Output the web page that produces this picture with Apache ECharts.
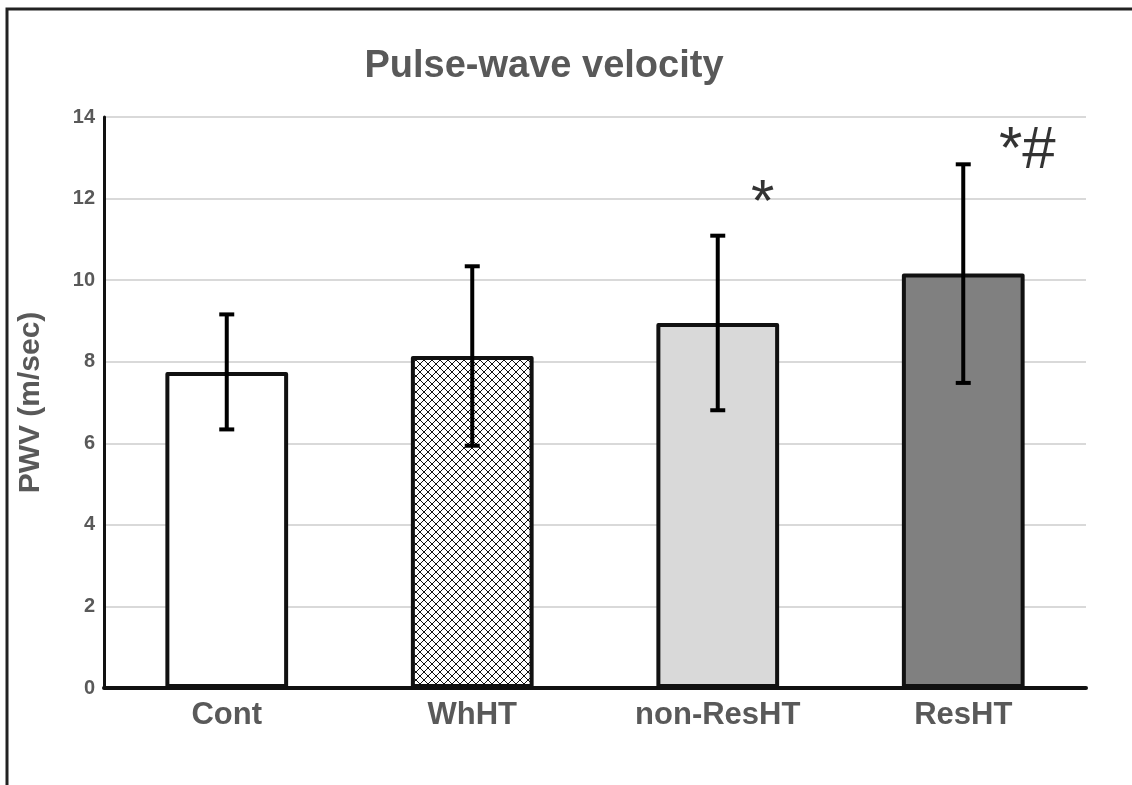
<!DOCTYPE html>
<html>
<head>
<meta charset="utf-8">
<script src="https://cdn.jsdelivr.net/npm/echarts@6/dist/echarts.min.js"></script>
<style>html,body{margin:0;padding:0;background:#fff}#c{width:1132px;height:785px}</style>
</head>
<body>
<div id="c"></div>
<script>
const categories = ['Cont', 'WhHT', 'non-ResHT', 'ResHT'];
const means = [7.75, 8.14, 8.95, 10.16];
const errors = [1.41, 2.2, 2.14, 2.68];
const significance = ['', '', '*', '*#'];
const sigValues = [0, 0, 11.85, 13.15];
const yTicks = [0, 2, 4, 6, 8, 10, 12, 14];

const FONT = '"Liberation Sans", Arial, sans-serif';
const GRAY = '#595959';

// crosshatch pattern
const pc = document.createElement('canvas');
pc.width = 8; pc.height = 8;
const g = pc.getContext('2d');
g.fillStyle = '#fff'; g.fillRect(0, 0, 8, 8);
g.strokeStyle = '#111'; g.lineWidth = 1;
g.beginPath();
g.moveTo(0, 0); g.lineTo(8, 8);
g.moveTo(8, 0); g.lineTo(0, 8);
g.stroke();

const fills = ['#ffffff', {image: pc, repeat: 'repeat'}, '#d9d9d9', '#808080'];

const chart = echarts.init(document.getElementById('c'), null, {renderer: 'canvas'});
chart.setOption({
  animation: false,
  backgroundColor: '#fff',
  title: {
    text: 'Pulse-wave velocity',
    left: 539, top: 43, textAlign: 'center',
    textStyle: {fontFamily: FONT, fontSize: 38, fontWeight: 'bold', color: GRAY}
  },
  graphic: [{
    type: 'polyline',
    shape: {points: [[7, 785], [7, 9], [1132, 9]]},
    style: {stroke: '#222', lineWidth: 3, fill: null},
    silent: true
  }],
  grid: {left: 104, right: 46, top: 117, bottom: 97},
  xAxis: {
    type: 'category',
    data: categories,
    axisLine: {lineStyle: {color: '#111', width: 4}},
    axisTick: {show: false},
    axisLabel: {fontFamily: FONT, fontSize: 31, fontWeight: 'bold', color: GRAY, margin: 12}
  },
  yAxis: {
    type: 'value',
    min: 0, max: 14, interval: 2,
    name: 'PWV (m/sec)',
    nameLocation: 'middle',
    nameGap: 58,
    nameTextStyle: {fontFamily: FONT, fontSize: 30, fontWeight: 'bold', color: GRAY},
    axisLine: {show: true, lineStyle: {color: '#111', width: 3}},
    axisTick: {show: false},
    splitLine: {lineStyle: {color: '#d9d9d9', width: 2}},
    axisLabel: {fontFamily: FONT, fontSize: 20, fontWeight: 'bold', color: GRAY, margin: 9,
      formatter: v => yTicks.includes(v) ? String(v) : ''}
  },
  series: [{
    type: 'bar',
    barWidth: '50%',
    data: means.map((v, i) => ({
      value: v,
      itemStyle: {color: fills[i], borderColor: '#111', borderWidth: 4, borderJoin: 'round'}
    })),
    z: 2
  }, {
    type: 'custom',
    z: 5,
    data: means.map((v, i) => [i, v - errors[i], v + errors[i]]),
    renderItem: function (params, api) {
      const x = api.value(0);
      const lo = api.coord([x, api.value(1)]);
      const hi = api.coord([x, api.value(2)]);
      const hw = 7.5;
      const st = {stroke: '#000', lineWidth: 4};
      return {
        type: 'group',
        children: [
          {type: 'line', shape: {x1: lo[0], y1: lo[1], x2: hi[0], y2: hi[1]}, style: st},
          {type: 'line', shape: {x1: hi[0] - hw, y1: hi[1], x2: hi[0] + hw, y2: hi[1]}, style: st},
          {type: 'line', shape: {x1: lo[0] - hw, y1: lo[1], x2: lo[0] + hw, y2: lo[1]}, style: st}
        ]
      };
    }
  }, {
    type: 'scatter',
    symbolSize: 0,
    z: 6,
    data: categories.map((c, i) => significance[i] ? {
      value: [i, sigValues[i]],
      label: {
        show: true,
        formatter: significance[i],
        position: 'inside',
        offset: [i === 3 ? 64 : 45, 0],
        fontFamily: FONT, fontSize: i === 3 ? 60 : 60, color: '#000'
      }
    } : null).filter(d => d)
  }]
});
</script>
</body>
</html>
